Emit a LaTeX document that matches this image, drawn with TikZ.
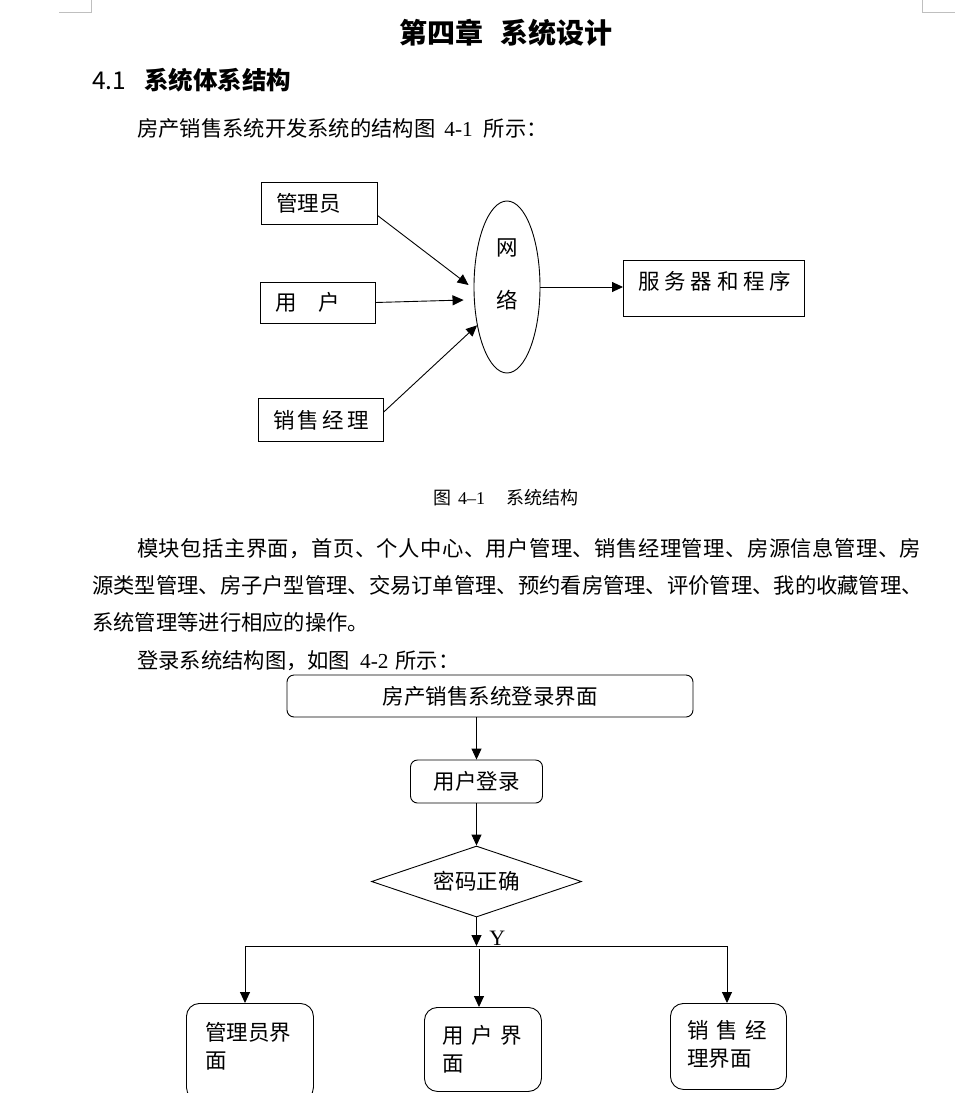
\documentclass[tikz,border=0pt]{standalone}
\usepackage{fontspec}
\setmainfont{Liberation Serif}
\newfontfamily\cjk{Noto Sans CJK SC}
\usetikzlibrary{arrows.meta}
\usetikzlibrary{shapes.geometric}
\definecolor{cornergray}{gray}{0.75}
\newcommand{\bodyfont}{\cjk\fontsize{21.3}{28}\selectfont}
\newcommand{\figfont}{\cjk\fontsize{21.5}{28}\selectfont}
\newcommand{\capfont}{\cjk\fontsize{18}{22}\selectfont}
\newcommand{\gap}{\hspace{7.5pt}}
\tikzset{
	box/.style={draw, line width=0.9pt, inner sep=0pt, font=\figfont},
	leftbox/.style={box, inner xsep=15pt, text width=#1, align=left},
	roundbox/.style={box, rounded corners=#1},
	arr/.style={-{Triangle[length=11pt,width=10pt]}, line width=0.9pt},
	txt/.style={anchor=base west, inner sep=0pt, font=\bodyfont},
}
\begin{document}
\begin{tikzpicture}[x=1pt, y=-1pt]
	\useasboundingbox (0,0) rectangle (978,1093);
	\fill[white] (0,0) rectangle (978,1093);
	
	% page corners
	\draw[cornergray, line width=0.8pt] (59,12) -- (91,12) -- (91,0);
	\draw[cornergray, line width=0.8pt] (922,0) -- (922,12) -- (955,12);
	
	% headings and text
	\node[txt, font=\cjk\bfseries\fontsize{28}{32}\selectfont] (title) at (399,43) {第四章\hspace{17pt}系统设计};
	\node[txt, font=\cjk\fontsize{24.5}{28}\selectfont] (sec) at (92,89) {4.1\hspace{18pt}\bfseries 系统体系结构};
	\node[txt] (intro) at (137,136) {房产销售系统开发系统的结构图\hspace{9pt}{\rmfamily 4-1}\hspace{11pt}所示：};
	
	% Fig 4-1: users
	\node[leftbox=86pt, minimum height=42pt] (adm) at (319,203) {管理员};
	\node[leftbox=85pt, minimum height=41pt] (usr) at (317.5,302.5) {用　户};
	\node[leftbox=95pt, minimum height=43pt] (mgr) at (320.5,420) {\addfontfeature{LetterSpace=15}销售经理};
	
	% network and server
	\node[box, ellipse, minimum width=66pt, minimum height=172pt, text width=30pt, align=center, text height=20pt, text depth=84pt] (net) at (507,287) {网\\[25pt]络};
	\node[box, anchor=north west, inner xsep=15pt, text width=151pt, align=left, text height=29pt, text depth=27pt] (srv) at (623,260) {\addfontfeature{LetterSpace=22}服务器和程序};
	
	\draw[arr] (adm.-12) -- ([shift={(-5,-2)}]net.west);
	\draw[arr] (usr.east) -- ([shift={(-10,13)}]net.west);
	\draw[arr] (mgr.7) -- (net.232);
	\draw[arr] (net.east) -- (srv.west |- net.east);
	
	\node[txt, font=\capfont] (cap41) at (433,504) {图\hspace{7pt}{\rmfamily 4–1}\hspace{21pt}系统结构};
	
	% paragraph
	\node[txt] (p1) at (137,556) {\addfontfeature{LetterSpace=2.3}模块包括主界面，首页、个人中心、用户管理、销售经理管理、房源信息管理、房};
	\node[txt] (p2) at (92,593) {源类型管理、房子户型管理、交易订单管理、预约看房管理、评价管理、我的收藏管理、};
	\node[txt] (p3) at (92,630) {系统管理等进行相应的操作。};
	\node[txt] (p4) at (137,668) {登录系统结构图，如图\hspace{10pt}{\rmfamily 4-2}\hspace{7pt}所示：};
	
	% Fig 4-2: login flow
	\node[roundbox=7pt, minimum width=406pt, minimum height=42pt] (login) at (490,696) {房产销售系统登录界面};
	\node[roundbox=7pt, minimum width=132pt, minimum height=43pt] (ulog) at (476.5,781.5) {用户登录};
	\node[box, diamond, aspect=3, minimum width=210pt, minimum height=71pt] (pwd) at (476.5,881.5) {密码正确};
	
	\draw[arr] (ulog.north |- login.south) -- (ulog.north);
	\draw[arr] (ulog.south) -- (pwd.north);
	
	% branches
	\coordinate (split) at (476.5,946);
	\coordinate (bl) at (245,946);
	\coordinate (br) at (727,946);
	\coordinate (bm) at (479,949);
	\draw[arr] (pwd.south) -- (split) node[pos=1, anchor=base west, inner sep=0pt, xshift=12.5pt, yshift=1pt, font=\rmfamily\fontsize{22}{26}\selectfont] {Y};
	\draw[line width=0.9pt] (bl) -- (br);
	
	\node[roundbox=13pt, anchor=north west, inner xsep=19pt, text width=89pt, align=left, text height=37pt, text depth=60pt] (admui) at (186,1003) {管理员界\\面};
	\node[roundbox=13pt, anchor=north west, inner xsep=18pt, text width=81pt, align=left, text height=36pt, text depth=48pt] (usrui) at (424,1007) {用\gap 户\gap 界\\面};
	\node[roundbox=13pt, anchor=north west, inner xsep=17pt, text width=82pt, align=left, text height=35pt, text depth=51pt] (mgrui) at (670,1003) {销\gap 售\gap 经\\理界面};
	
	\draw[arr] (bl) -- (bl |- admui.north);
	\draw[arr] (bm) -- (bm |- usrui.north);
	\draw[arr] (br) -- (br |- mgrui.north);
\end{tikzpicture}
\end{document}
